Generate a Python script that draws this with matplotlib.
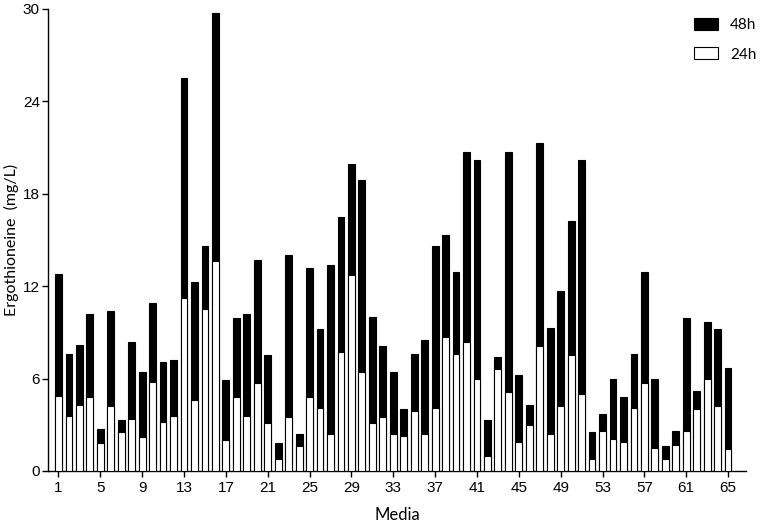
import matplotlib
matplotlib.use("Agg")
import matplotlib.pyplot as plt
import numpy as np

media = np.arange(1, 66)

h48 = [12.8, 7.6, 8.2, 10.2, 2.7, 10.4, 3.3, 8.4, 6.4, 10.9,
       7.1, 7.2, 25.5, 12.3, 14.6, 29.7, 5.9, 9.9, 10.2, 13.7,
       7.5, 1.8, 14.0, 2.4, 13.2, 9.2, 13.4, 16.5, 19.9, 18.9,
       10.0, 8.1, 6.4, 4.0, 7.6, 8.5, 14.6, 15.3, 12.9, 20.7,
       20.2, 3.3, 7.4, 20.7, 6.2, 4.3, 21.3, 9.3, 11.7, 16.2,
       20.2, 2.5, 3.7, 6.0, 4.8, 7.6, 12.9, 6.0, 1.6, 2.6,
       9.9, 5.2, 9.7, 9.2, 6.7]
h24 = [4.9, 3.6, 4.3, 4.8, 1.8, 4.2, 2.5, 3.4, 2.2, 5.8,
       3.2, 3.6, 11.2, 4.6, 10.5, 13.6, 2.0, 4.8, 3.6, 5.7,
       3.1, 0.8, 3.5, 1.6, 4.8, 4.1, 2.4, 7.7, 12.7, 6.4,
       3.1, 3.5, 2.4, 2.3, 3.9, 2.4, 4.1, 8.7, 7.6, 8.4,
       6.0, 1.0, 6.6, 5.1, 1.9, 3.0, 8.1, 2.4, 4.2, 7.5,
       5.0, 0.8, 2.6, 2.1, 1.9, 4.1, 5.7, 1.5, 0.8, 1.7,
       2.6, 4.0, 6.0, 4.2, 1.4]

label_font = ["Lato", "DejaVu Sans"]
tick_font = ["Liberation Sans", "DejaVu Sans"]

fig = plt.figure(figsize=(7.65, 5.21), dpi=100)
ax = fig.add_axes([0.063, 0.096, 0.912, 0.887])

w = 0.65
ax.bar(media, h48, width=w, color="black", edgecolor="black", linewidth=0.8, label="48h", zorder=2)
ax.bar(media, h24, width=w, color="white", edgecolor="black", linewidth=0.8, label="24h", zorder=3)

ax.set_xlim(0.02, 66.7)
ax.set_ylim(0, 30)
ax.set_yticks(np.arange(0, 31, 6))
ax.set_xticks(np.arange(1, 66, 4))
for s in ["top", "right"]:
    ax.spines[s].set_visible(False)
for s in ["left", "bottom"]:
    ax.spines[s].set_linewidth(1.0)
ax.tick_params(axis="both", direction="out", length=4, width=1.0, labelsize=11)
ax.tick_params(axis="y", pad=2)
for lab in ax.get_xticklabels() + ax.get_yticklabels():
    lab.set_family(tick_font)

ax.set_xlabel("Media", fontsize=12, family=label_font, labelpad=8)
ax.set_ylabel("Ergothioneine  (mg/L)", fontsize=11.5, family=label_font, labelpad=3)

leg = ax.legend(loc="upper right", frameon=False, fontsize=11, handlelength=1.6,
                handleheight=0.8, labelspacing=1.0, bbox_to_anchor=(1.035, 1.01))
for t in leg.get_texts():
    t.set_family(label_font)

fig.savefig("out.png", dpi=100)
